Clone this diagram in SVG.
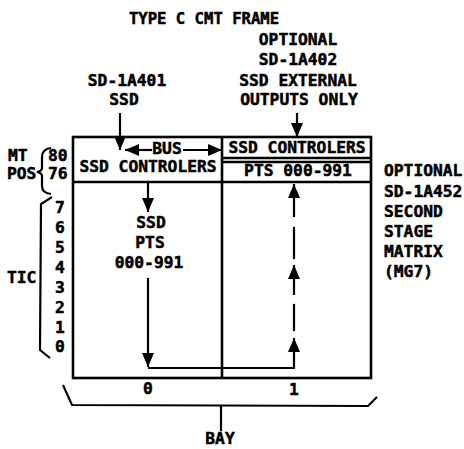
<svg xmlns="http://www.w3.org/2000/svg" width="464" height="449" viewBox="0 0 464 449">
<style>
text{font-family:"DejaVu Sans Mono","Liberation Mono",monospace;font-weight:bold;font-size:16.3px;fill:#000;stroke:#000;stroke-width:0.5}
.m{text-anchor:middle}
.ln{fill:none;stroke:#000;stroke-width:2.2;stroke-linecap:square}
.fr{fill:none;stroke:#000;stroke-width:2.6}
.ar{fill:none;stroke:#000;stroke-width:2.2;marker-end:url(#ah)}
</style>
<defs>
<marker id="ah" markerUnits="userSpaceOnUse" markerWidth="15" markerHeight="12" refX="14" refY="6" orient="auto">
<path d="M0,0 L14,6 L0,12 z" fill="#000"/>
</marker>
</defs>
<rect width="464" height="449" fill="#fff"/>

<g id="title"><text class="m" x="204" y="24" style="font-size:15.6px">TYPE C CMT FRAME</text></g>
<g id="sd1a401"><text class="m" x="127" y="86">SD-1A401</text><text class="m" x="124" y="105">SSD</text></g>
<g id="sd1a402"><text class="m" x="298" y="45">OPTIONAL</text><text class="m" x="298" y="65">SD-1A402</text><text class="m" x="298" y="86">SSD EXTERNAL</text><text class="m" x="299" y="105">OUTPUTS ONLY</text></g>

<g id="frame">
<rect class="fr" x="73" y="137" width="298" height="241"/>
<line class="fr" x1="222" y1="137" x2="222" y2="378"/>
<line class="fr" x1="73" y1="182" x2="371" y2="182"/>
<line class="fr" x1="222" y1="158" x2="371" y2="158"/>
<line class="fr" x1="222" y1="162" x2="371" y2="162"/>
</g>
<g id="left-box"><text class="m" x="148" y="172">SSD CONTROLERS</text><text class="m" x="167" y="154">BUS</text></g>
<g id="right-box"><text class="m" x="297" y="153">SSD CONTROLERS</text><text class="m" x="298" y="176">PTS 000-991</text></g>
<g id="ssd-pts"><text class="m" x="151" y="228">SSD</text><text class="m" x="150" y="248">PTS</text><text class="m" x="149" y="268">000-991</text></g>
<g id="bay-labels"><text class="m" x="148" y="394">0</text><text class="m" x="294" y="395">1</text><text class="m" x="220" y="444">BAY</text></g>
<g id="mt-pos"><text x="8" y="161">MT</text><text x="7" y="179">POS</text><text x="48" y="161">80</text><text x="48" y="179">76</text>
<path class="ln" d="M51,148 Q42,149 42,157 L42,168 Q42,171 37,172 Q42,173 42,176 L42,186 Q42,193 51,194" style="stroke-linecap:butt"/></g>
<g id="tic"><text x="7" y="283">TIC</text>
<text class="m" x="60" y="213">7</text><text class="m" x="60" y="233">6</text><text class="m" x="60" y="253">5</text><text class="m" x="60" y="273">4</text><text class="m" x="60" y="293">3</text><text class="m" x="60" y="313">2</text><text class="m" x="60" y="333">1</text><text class="m" x="60" y="352">0</text>
<path class="ln" d="M52,197 L41,204 L40,350 L50,358" style="stroke-linecap:butt"/></g>
<g id="sd1a452"><text x="384" y="176">OPTIONAL</text><text x="384" y="197">SD-1A452</text><text x="384" y="217">SECOND</text><text x="384" y="237">STAGE</text><text x="384" y="257">MATRIX</text><text x="384" y="277">(MG7)</text></g>
<g id="bay-bracket"><path class="ln" d="M63,385 L72,405 L368,406 L377,397" style="stroke-linecap:butt"/><line class="ln" x1="221" y1="406" x2="221" y2="430"/></g>

<g id="connectors">
<line class="ar" x1="120" y1="113" x2="120" y2="150"/>
<line class="ar" x1="297" y1="113" x2="297" y2="137"/>
<line class="ar" x1="152" y1="150" x2="125" y2="150"/>
<line class="ar" x1="183" y1="150" x2="222" y2="150"/>
<line class="ar" x1="148" y1="183" x2="148" y2="212"/>
<line class="ar" x1="148" y1="278" x2="148" y2="367"/>
<polyline class="ar" points="148,368 294,368 294,338"/>
<line class="ln" x1="294" y1="330" x2="294" y2="305"/>
<line class="ar" x1="294" y1="295" x2="294" y2="265"/>
<line class="ln" x1="294" y1="258" x2="294" y2="228"/>
<line class="ar" x1="294" y1="217" x2="294" y2="184"/>
</g>
</svg>
